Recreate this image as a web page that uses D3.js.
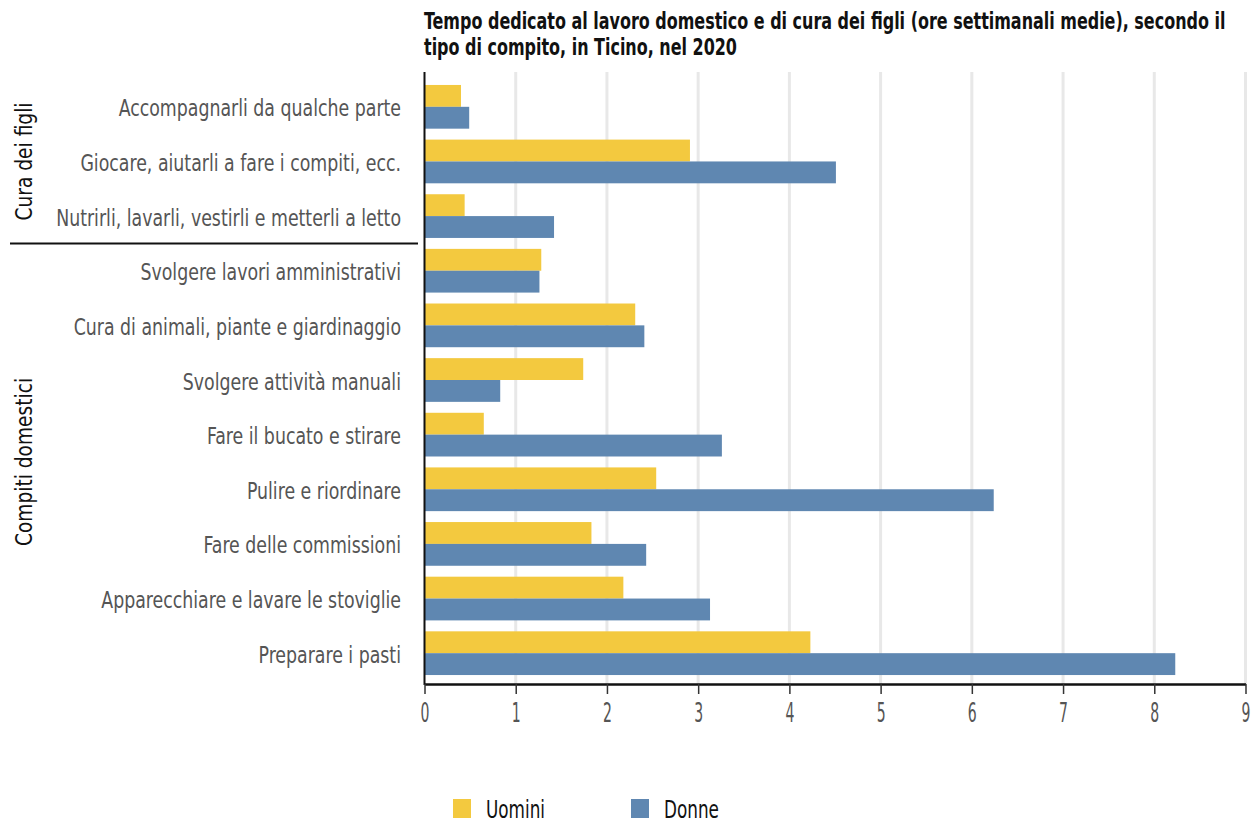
<!DOCTYPE html>
<html>
<head>
<meta charset="utf-8">
<script src="https://cdn.jsdelivr.net/npm/d3@7"></script>
<style>
  html, body { margin: 0; padding: 0; background: #fff; }
  svg text { font-family: "DejaVu Sans Condensed", "Liberation Sans Narrow", "Arial Narrow", sans-serif; }
</style>
</head>
<body>
<svg id="chart" width="1252" height="825"></svg>
<script>
// Weekly hours spent on housework and childcare, Ticino 2020
const categories = [
  "Accompagnarli da qualche parte",
  "Giocare, aiutarli a fare i compiti, ecc.",
  "Nutrirli, lavarli, vestirli e metterli a letto",
  "Svolgere lavori amministrativi",
  "Cura di animali, piante e giardinaggio",
  "Svolgere attività manuali",
  "Fare il bucato e stirare",
  "Pulire e riordinare",
  "Fare delle commissioni",
  "Apparecchiare e lavare le stoviglie",
  "Preparare i pasti"
];
const groups = [
  { name: "Cura dei figli", first: 0, last: 2 },
  { name: "Compiti domestici", first: 3, last: 10 }
];
const seriesNames = ["Uomini", "Donne"];
const uomini = [0.40, 2.91, 0.44, 1.28, 2.31, 1.74, 0.65, 2.54, 1.83, 2.18, 4.23];
const donne  = [0.49, 4.51, 1.42, 1.26, 2.41, 0.83, 3.26, 6.24, 2.43, 3.13, 8.23];
const xTicks = [0, 1, 2, 3, 4, 5, 6, 7, 8, 9];
const title = [
  "Tempo dedicato al lavoro domestico e di cura dei figli (ore settimanali medie), secondo il",
  "tipo di compito, in Ticino, nel 2020"
];
const colors = ["#F3C93F", "#5F87B1"];

const svg = d3.select("#chart");
const plotLeft = 424.5, plotRight = 1245.5, plotTop = 79.5, plotBottom = 680.5, axisY = 684;

// the typeface is a narrow one: squeeze DejaVu Condensed horizontally
function widthOf(text, size, weight) {
  const t = svg.append("text").attr("font-size", size).attr("font-weight", weight || "normal").text(text);
  const w = t.node().getComputedTextLength();
  t.remove();
  return w;
}
function squeeze(sel, f, extra) {
  sel.each(function () {
    const t = d3.select(this);
    const px = +t.attr("x") || 0, py = +t.attr("y") || 0;
    t.attr("x", 0).attr("y", 0)
      .attr("transform", `translate(${px},${py}) ${extra || ""} scale(${f},1)`);
  });
}

const x = d3.scaleLinear().domain([0, 9]).range([plotLeft, plotRight]);
const y = d3.scaleBand().domain(categories).range([plotTop, plotBottom]).paddingInner(0.2).paddingOuter(0.1);
const ySub = d3.scaleBand().domain(seriesNames).range([0, y.bandwidth()]);

// title
const titleF = 802 / widthOf(title[0], 23, "bold");
svg.append("g").selectAll("text").data(title).join("text")
  .attr("x", 424).attr("y", (d, i) => 29 + i * 26)
  .attr("font-size", 23).attr("font-weight", "bold").attr("fill", "#111")
  .text(d => d)
  .call(squeeze, titleF);

// vertical grid
svg.append("g").selectAll("line").data(xTicks.filter(t => t > 0)).join("line")
  .attr("x1", d => x(d)).attr("x2", d => x(d))
  .attr("y1", 72).attr("y2", axisY)
  .attr("stroke", "#e8e8e8").attr("stroke-width", 3);

// bars
const rows = categories.map((c, i) => ({ cat: c, values: [uomini[i], donne[i]] }));
const rowG = svg.append("g").selectAll("g").data(rows).join("g")
  .attr("transform", d => `translate(0,${y(d.cat)})`);
rowG.selectAll("rect").data(d => d.values.map((v, k) => ({ v, k }))).join("rect")
  .attr("x", x(0))
  .attr("y", d => ySub(seriesNames[d.k]))
  .attr("width", d => x(d.v) - x(0))
  .attr("height", ySub.bandwidth())
  .attr("fill", d => colors[d.k]);

// category labels
const labelF = 345 / widthOf(categories[2], 23);
svg.append("g").selectAll("text").data(categories).join("text")
  .attr("x", 401).attr("y", d => y(d) + y.bandwidth() / 2 + 9.5)
  .attr("text-anchor", "end").attr("font-size", 23).attr("fill", "#555")
  .text(d => d)
  .call(squeeze, labelF);

// left axis line
svg.append("line").attr("x1", plotLeft).attr("x2", plotLeft).attr("y1", 72).attr("y2", axisY + 1)
  .attr("stroke", "#111").attr("stroke-width", 2);

// group separator and labels
const sepY = (y(categories[2]) + y.bandwidth() + y(categories[3])) / 2;
svg.append("line").attr("x1", 10).attr("x2", 418).attr("y1", sepY).attr("y2", sepY)
  .attr("stroke", "#111").attr("stroke-width", 2);
const groupF = 118 / widthOf(groups[0].name, 23);
groups.forEach(g => {
  const cy = (y(categories[g.first]) + y(categories[g.last]) + y.bandwidth()) / 2;
  svg.append("text")
    .attr("x", 32).attr("y", cy)
    .attr("text-anchor", "middle").attr("font-size", 23).attr("fill", "#111")
    .text(g.name)
    .call(squeeze, groupF, "rotate(-90)");
});

// x axis
const xAxis = svg.append("g").attr("transform", `translate(0,${axisY})`)
  .call(d3.axisBottom(x).tickValues(xTicks).tickSize(10).tickPadding(10).tickSizeOuter(0));
xAxis.select(".domain").attr("stroke", "#111").attr("stroke-width", 2.5);
xAxis.selectAll(".tick line").attr("stroke", "#333").attr("stroke-width", 1.5);
xAxis.selectAll(".tick text").attr("font-size", 26).attr("fill", "#555")
  .attr("font-family", "\"DejaVu Sans Condensed\", sans-serif")
  .attr("transform", "scale(0.6,1)");

// legend
const legendF = 59 / widthOf(seriesNames[0], 25);
const legend = svg.append("g").selectAll("g").data(seriesNames).join("g")
  .attr("transform", (d, i) => `translate(${453 + i * 178},799)`);
legend.append("rect").attr("width", 18).attr("height", 19).attr("fill", (d, i) => colors[i]);
legend.append("text").attr("x", 33).attr("y", 19).attr("font-size", 25).attr("fill", "#111")
  .text(d => d)
  .call(squeeze, legendF);
</script>
</body>
</html>
